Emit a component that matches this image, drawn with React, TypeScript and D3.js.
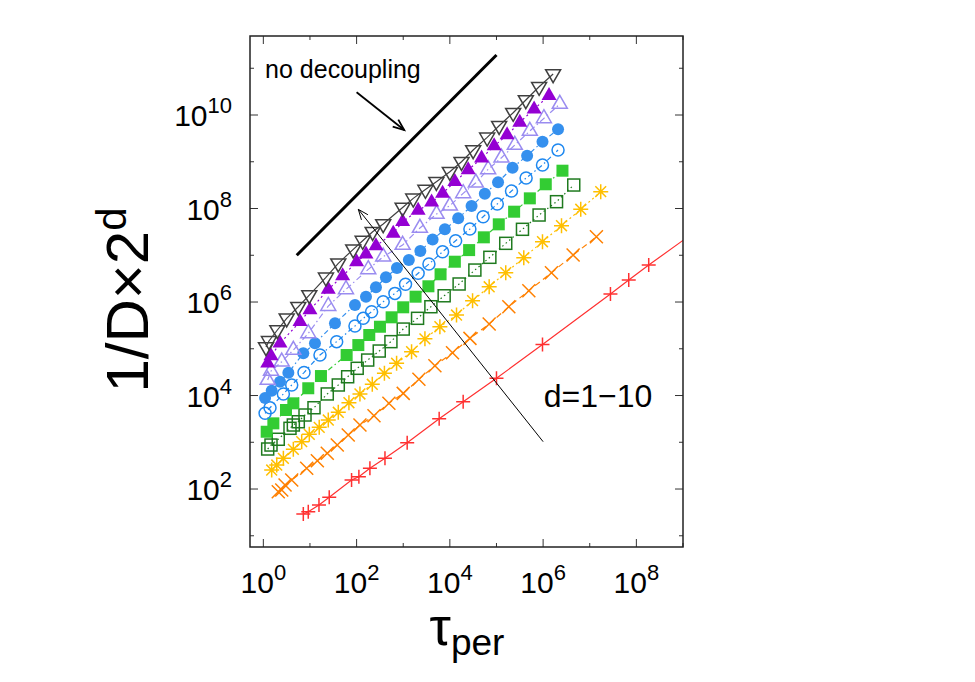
import React from "react";
import * as d3 from "d3";

// Scaling of the inverse diffusion coefficient with the persistence time,
// one series per dimension d = 1..10.

const W = 975;
const H = 682;
const plot = { left: 250, right: 683, top: 36, bottom: 547 };

const xDomain: [number, number] = [10 ** -0.286, 1e9];
const yDomain: [number, number] = [10 ** 0.76, 10 ** 11.69];

const xTickExps = [0, 1, 2, 3, 4, 5, 6, 7, 8, 9];
const xLabelExps = [0, 2, 4, 6, 8];
const yTickExps = [1, 2, 3, 4, 5, 6, 7, 8, 9, 10, 11];
const yLabelExps = [2, 4, 6, 8, 10];

type Pt = [number, number];

const d1: Pt[] = [[7.2, 29.2], [9.2, 32.7], [15.6, 45.5], [25.9, 66.4], [78, 156], [112, 183], [193, 277], [406, 454], [1216, 977], [5900, 3190], [19300, 7360], [1.0e5, 23300], [9.7e5, 1.24e5], [2.78e7, 1.48e6], [6.86e7, 2.96e6], [1.84e8, 6.18e6], [3.2e9, 4.8e7]];
const d2: Pt[] = [[2.09, 87.5], [2.48, 95.3], [2.92, 122], [4.06, 156], [8.51, 277], [14.4, 403], [23.5, 581], [38.5, 873], [66.2, 1430], [118, 2340], [236, 3700], [493, 6810], [1000, 11100], [2170, 22200], [4780, 43400], [11400, 82200], [27000, 1.67e5], [69700, 3.38e5], [1.84e5, 7.94e5], [4.94e5, 1.75e6], [1.51e6, 4.24e6], [4.4e6, 1.01e7], [1.39e7, 2.49e7]];
const d3pts: Pt[] = [[1.51, 255], [1.94, 326], [2.69, 454], [4.4, 706], [6.65, 1030], [9.68, 1480], [15.8, 2090], [24.7, 2990], [40.5, 4380], [68.5, 7010], [118, 10800], [217, 17400], [395, 29900], [721, 48900], [1510, 86500], [2920, 1.63e5], [6110, 2.96e5], [13900, 5.27e5], [30700, 1.07e6], [69700, 2.12e6], [1.58e5, 4.24e6], [3.85e5, 8.87e6], [9.7e5, 1.95e7], [2.48e6, 4.29e7], [6.41e6, 9.62e7], [1.72e7, 2.29e8]];
const d4: Pt[] = [[1.24, 718], [1.46, 873], [2.09, 1160], [3.73, 1990], [4.4, 2340], [5.62, 2750], [7.83, 3830], [12.2, 5480], [23.5, 10800], [40.5, 16800], [64.3, 25200], [103, 38200], [173, 57400], [306, 89500], [545, 1.42e5], [1000, 2.64e5], [2030, 4.48e5], [3920, 7.93e5], [7550, 1.36e6], [15800, 2.43e6], [34400, 4.83e6], [72100, 9.04e6], [1.58e5, 1.8e7], [3.61e5, 3.59e7], [8.2e5, 7.26e7], [1.94e6, 1.4e8], [4.54e6, 3.18e8]];
const d5: Pt[] = [[1.18, 1680], [1.64, 2540], [3.06, 4900], [4.4, 6810], [9.2, 14300], [17.2, 26100], [61.2, 73500], [109, 1.2e5], [187, 1.97e5], [317, 2.96e5], [564, 4.71e5], [1000, 7.71e5], [1840, 1.3e6], [3470, 2.17e6], [6320, 3.92e6], [12800, 7.28e6], [25900, 1.29e7], [53600, 2.42e7], [1.12e5, 4.59e7], [2.39e5, 8.55e7], [5.19e5, 1.65e8], [1.14e6, 3.3e8], [2.6e6, 6.44e8]];
const d6: Pt[] = [[1.09, 4160], [1.39, 5480], [2.69, 10800], [4.06, 16800], [7.45, 31000], [16.4, 73500], [37.4, 1.42e5], [92.3, 3.07e5], [139, 4.48e5], [210, 6.21e5], [372, 1.01e6], [664, 1.53e6], [1120, 2.39e6], [2090, 4.11e6], [3560, 6.5e6], [6980, 1.19e7], [13300, 2.05e7], [26900, 3.64e7], [51800, 6.68e7], [1.04e5, 1.25e8], [2.1e5, 2.37e8], [4.32e5, 4.49e8], [9.7e5, 8.51e8], [2.09e6, 1.78e9]];
const d7: Pt[] = [[1.09, 8850], [1.51, 12700], [2.28, 19700], [3.44, 30800], [7.19, 80000], [12.8, 1.31e5], [34.4, 3.5e5], [92.3, 8.63e5], [159, 1.3e6], [260, 2.06e6], [426, 3.37e6], [733, 5.33e6], [1320, 7.91e6], [2330, 1.24e7], [4270, 2.17e7], [7820, 3.59e7], [15100, 6.17e7], [29200, 1.13e8], [56200, 2.07e8], [1.08e5, 3.66e8], [2.21e5, 7.46e8], [4.54e5, 1.35e9], [9.7e5, 2.69e9], [2.09e6, 4.94e9]];
const d8: Pt[] = [[1.24, 21500], [1.46, 33400], [2.48, 52800], [4.4, 94000], [9.2, 2.14e5], [24.7, 8.2e5], [59.2, 1.87e6], [178, 5.0e6], [372, 9.31e6], [971, 1.66e7], [2280, 3.83e7], [5190, 7.62e7], [10000, 1.15e8], [19300, 2.11e8], [36100, 3.56e8], [66200, 6.89e8], [1.28e5, 1.22e9], [2.47e5, 2.28e9], [5.19e5, 4.55e9], [1.04e6, 8.49e9], [2.28e6, 1.72e10]];
const d9: Pt[] = [[1.24, 48900], [1.46, 70000], [2.28, 1.31e5], [6.11, 3.79e5], [10.0, 6.75e5], [24.7, 1.87e6], [50.2, 3.6e6], [100, 7.18e6], [159, 1.05e7], [260, 1.58e7], [611, 2.95e7], [971, 5.22e7], [2090, 9.06e7], [4060, 1.36e8], [6980, 2.11e8], [12800, 3.74e8], [24700, 6.67e8], [47900, 1.19e9], [89100, 2.17e9], [1.69e5, 3.73e9], [3.16e5, 6.98e9], [6.41e5, 1.34e10], [1.34e6, 2.59e10]];
const d10: Pt[] = [[1.14, 1.09e5], [1.32, 1.47e5], [2.0, 2.52e5], [3.17, 4.48e5], [5.62, 7.93e5], [9.68, 1.41e6], [22.0, 3.37e6], [40.5, 6.73e6], [84.7, 1.34e7], [135, 2.05e7], [221, 3.19e7], [372, 4.66e7], [971, 1.05e8], [1640, 1.65e8], [2990, 2.54e8], [5140, 3.74e8], [10000, 6.12e8], [17800, 1.0e9], [31600, 1.78e9], [63100, 3.33e9], [1.14e5, 5.9e9], [2.28e5, 1.12e10], [4.26e5, 2.09e10], [8.2e5, 4.03e10], [1.64e6, 7.53e10]];

type MarkerKind =
  | "plus" | "cross" | "star" | "squareOpen" | "squareFilled"
  | "circleOpen" | "circleFilled" | "triUpOpen" | "triUpFilled" | "triDownOpen";

interface Series {
  name: string;
  points: Pt[];
  color: string;
  marker: MarkerKind;
  dash: string;
}

const series: Series[] = [
  { name: "d=1", points: d1, color: "#ff3030", marker: "plus", dash: "none" },
  { name: "d=2", points: d2, color: "#ff8000", marker: "cross", dash: "6,4" },
  { name: "d=3", points: d3pts, color: "#ffbf00", marker: "star", dash: "2,3" },
  { name: "d=4", points: d4, color: "#1f7a1f", marker: "squareOpen", dash: "1.5,3" },
  { name: "d=5", points: d5, color: "#33cc33", marker: "squareFilled", dash: "5,3,1.5,3" },
  { name: "d=6", points: d6, color: "#1e88f0", marker: "circleOpen", dash: "1.5,3,5,3" },
  { name: "d=7", points: d7, color: "#3590ee", marker: "circleFilled", dash: "5,3,1.5,3" },
  { name: "d=8", points: d8, color: "#9a8cf0", marker: "triUpOpen", dash: "6,3,1.5,3" },
  { name: "d=9", points: d9, color: "#9400d3", marker: "triUpFilled", dash: "2,3" },
  { name: "d=10", points: d10, color: "#404040", marker: "triDownOpen", dash: "none" },
];

// Reference slope-one line ("no decoupling") and the two annotation arrows
const noDecouplingLine: Pt[] = [[5.2, 1.0e7], [1.0e5, 1.92e11]];
const noDecouplingArrow: Pt[] = [[100, 3.06e10], [1050, 4.77e9]];
const dimensionArrow: Pt[] = [[1.0e6, 1.03e3], [109, 9.6e7]];
const noDecouplingLabel: Pt = [1.09, 6.2e10];
const dimensionLabel: Pt = [1.03e6, 5.75e3];

const x = d3.scaleLog().domain(xDomain).range([plot.left, plot.right]);
const y = d3.scaleLog().domain(yDomain).range([plot.bottom, plot.top]);

const FONT = "'Liberation Sans', Arial, Helvetica, sans-serif";

function Marker({ kind, cx, cy, color }: { kind: MarkerKind; cx: number; cy: number; color: string }) {
  const sw = 1.5;
  switch (kind) {
    case "plus": {
      const s = 7;
      return <path d={`M${cx - s},${cy}H${cx + s}M${cx},${cy - s}V${cy + s}`} stroke={color} strokeWidth={sw} fill="none" />;
    }
    case "cross": {
      const s = 6.5;
      return <path d={`M${cx - s},${cy - s}L${cx + s},${cy + s}M${cx - s},${cy + s}L${cx + s},${cy - s}`} stroke={color} strokeWidth={sw} fill="none" />;
    }
    case "star": {
      const s = 7.5;
      const t = s * 0.72;
      return (
        <path
          d={`M${cx - s},${cy}H${cx + s}M${cx},${cy - s}V${cy + s}M${cx - t},${cy - t}L${cx + t},${cy + t}M${cx - t},${cy + t}L${cx + t},${cy - t}`}
          stroke={color} strokeWidth={sw} fill="none"
        />
      );
    }
    case "squareOpen": {
      const s = 6;
      return <rect x={cx - s} y={cy - s} width={2 * s} height={2 * s} stroke={color} strokeWidth={sw} fill="none" />;
    }
    case "squareFilled": {
      const s = 6;
      return <rect x={cx - s} y={cy - s} width={2 * s} height={2 * s} fill={color} />;
    }
    case "circleOpen":
      return <circle cx={cx} cy={cy} r={6} stroke={color} strokeWidth={sw} fill="none" />;
    case "circleFilled":
      return <circle cx={cx} cy={cy} r={6} fill={color} />;
    case "triUpOpen":
    case "triUpFilled": {
      const s = 7.5;
      const d = `M${cx},${cy - 1.155 * s}L${cx + s},${cy + 0.577 * s}L${cx - s},${cy + 0.577 * s}Z`;
      return kind === "triUpOpen"
        ? <path d={d} stroke={color} strokeWidth={sw} fill="none" />
        : <path d={d} fill={color} />;
    }
    case "triDownOpen": {
      const s = 7.5;
      const d = `M${cx},${cy + 1.155 * s}L${cx + s},${cy - 0.577 * s}L${cx - s},${cy - 0.577 * s}Z`;
      return <path d={d} stroke={color} strokeWidth={sw} fill="none" />;
    }
  }
  return null;
}

function Arrow({ pts, width, head }: { pts: Pt[]; width: number; head: number }) {
  const [x0, y0] = [x(pts[0][0]), y(pts[0][1])];
  const [x1, y1] = [x(pts[1][0]), y(pts[1][1])];
  const ang = Math.atan2(y1 - y0, x1 - x0);
  const spread = (22 * Math.PI) / 180;
  const hx1 = x1 - head * Math.cos(ang - spread);
  const hy1 = y1 - head * Math.sin(ang - spread);
  const hx2 = x1 - head * Math.cos(ang + spread);
  const hy2 = y1 - head * Math.sin(ang + spread);
  return (
    <g stroke="#000" strokeWidth={width} fill="none">
      <line x1={x0} y1={y0} x2={x1} y2={y1} />
      <path d={`M${hx1},${hy1}L${x1},${y1}L${hx2},${hy2}`} />
    </g>
  );
}

function PowerLabel({ exp, px, py, anchor }: { exp: number; px: number; py: number; anchor: "middle" | "end" }) {
  return (
    <text x={px} y={py} textAnchor={anchor} fontFamily={FONT} fontSize={30} fill="#000">
      10<tspan dy={-13} fontSize={22}>{exp}</tspan>
    </text>
  );
}

export default function App() {
  const line = d3
    .line<Pt>()
    .x((d) => x(d[0]))
    .y((d) => y(d[1]));

  const majorLen = 8;
  const minorLen = 4;

  return (
    <svg
      width={W}
      height={H}
      viewBox={`0 0 ${W} ${H}`}
      style={{ position: "absolute", left: 0, top: 0, background: "#fff" }}
    >
      <defs>
        <clipPath id="plot-clip">
          <rect x={plot.left} y={plot.top} width={plot.right - plot.left} height={plot.bottom - plot.top} />
        </clipPath>
      </defs>

      {/* ticks on all four sides */}
      <g stroke="#333" strokeWidth={1}>
        {xTickExps.map((e) => {
          const px = x(10 ** e);
          const len = xLabelExps.includes(e) ? majorLen : minorLen;
          return (
            <g key={`xt${e}`}>
              <line x1={px} x2={px} y1={plot.bottom} y2={plot.bottom - len} />
              <line x1={px} x2={px} y1={plot.top} y2={plot.top + len} />
            </g>
          );
        })}
        {yTickExps.map((e) => {
          const py = y(10 ** e);
          const len = yLabelExps.includes(e) ? majorLen : minorLen;
          return (
            <g key={`yt${e}`}>
              <line x1={plot.left} x2={plot.left + len} y1={py} y2={py} />
              <line x1={plot.right} x2={plot.right - len} y1={py} y2={py} />
            </g>
          );
        })}
      </g>

      {/* tick labels */}
      {xLabelExps.map((e) => (
        <PowerLabel key={`xl${e}`} exp={e} px={x(10 ** e)} py={593} anchor="middle" />
      ))}
      {yLabelExps.map((e) => (
        <PowerLabel key={`yl${e}`} exp={e} px={232} py={y(10 ** e) + 11} anchor="end" />
      ))}

      {/* axis titles */}
      <text x={467} y={645} textAnchor="middle" fontFamily={FONT} fontSize={54} fill="#000">
        τ<tspan dy={10} fontSize={37}>per</tspan>
      </text>
      <text
        transform={`translate(148, 300) rotate(-90)`}
        textAnchor="middle"
        fontFamily={FONT}
        fontSize={60}
        fill="#000"
      >
        1/D×2<tspan dy={-22} fontSize={42}>d</tspan>
      </text>

      {/* data */}
      <g clipPath="url(#plot-clip)">
        {series.map((s) => (
          <g key={s.name}>
            <path
              d={line(s.points) ?? ""}
              fill="none"
              stroke={s.color}
              strokeWidth={1.2}
              strokeDasharray={s.dash === "none" ? undefined : s.dash}
            />
            {s.points.map((p, i) => (
              <Marker key={i} kind={s.marker} cx={x(p[0])} cy={y(p[1])} color={s.color} />
            ))}
          </g>
        ))}

        <path d={line(noDecouplingLine) ?? ""} stroke="#000" strokeWidth={3} fill="none" />
        <Arrow pts={noDecouplingArrow} width={1.8} head={12} />
        <Arrow pts={dimensionArrow} width={1} head={11} />
      </g>

      {/* annotations */}
      <text x={x(noDecouplingLabel[0])} y={y(noDecouplingLabel[1])} fontFamily={FONT} fontSize={25} fill="#000">
        no decoupling
      </text>
      <text x={x(dimensionLabel[0])} y={y(dimensionLabel[1])} fontFamily={FONT} fontSize={32} fill="#000">
        d=1−10
      </text>

      {/* frame */}
      <rect
        x={plot.left}
        y={plot.top}
        width={plot.right - plot.left}
        height={plot.bottom - plot.top}
        fill="none"
        stroke="#222"
        strokeWidth={1.5}
      />
    </svg>
  );
}
